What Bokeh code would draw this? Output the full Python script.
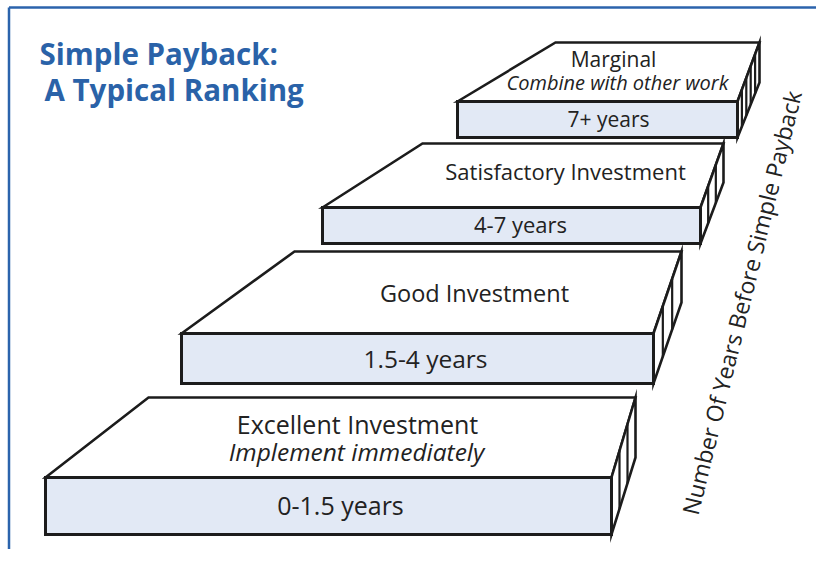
import math
from bokeh.plotting import figure
from bokeh.models import Range1d
from bokeh.core.properties import value
from bokeh.embed import file_html
from bokeh.resources import INLINE

# ---- content ----
title_lines = ["Simple Payback:", "A Typical Ranking"]
rank_labels = ["Excellent Investment", "Good Investment", "Satisfactory Investment", "Marginal"]
rank_notes = ["Implement immediately", "", "", "Combine with other work"]
year_labels = ["0-1.5 years", "1.5-4 years", "4-7 years", "7+ years"]
axis_label = "Number Of Years Before Simple Payback"

# ---- layout (pixel geometry of each slab, image coordinates) ----
# front-left, front-right, front-top, front-bottom, back-left, back-right, back-top, back-bottom
slabs = [
    (45, 611, 477, 534, 148, 635, 397, 457),
    (181, 653, 333, 383, 294, 681, 251, 302),
    (322, 700, 207, 243, 422, 723, 143, 182),
    (457, 737, 101, 137, 555, 759, 42, 82),
]
stripes = [2, 2, 2, 4]
label_pos = [(357, 423), (474, 292), (565, 170), (613, 58)]
note_pos = [(356, 451), None, None, (617, 82)]
year_pos = [(340, 504), (425, 358), (520, 223), (608, 118)]
label_size = ["25px", "23.5px", "22px", "21px"]
note_size = ["24.5px", "22px", "21px", "20px"]
year_size = ["25px", "24.5px", "22px", "21px"]

W, H = 816, 549
p = figure(width=W, height=H, x_range=Range1d(0, W), y_range=Range1d(H, 0),
           output_backend="svg", toolbar_location=None, min_border=0)
p.axis.visible = False
p.grid.visible = False
p.outline_line_color = None
p.background_fill_color = "white"
p.border_fill_color = "white"

# frame
p.line([8.5, 8.5], [H + 5, 7], line_color="#2B63AC", line_width=2.5)
p.line([8.5, W + 5], [7, 7], line_color="#2B63AC", line_width=2.5)

ink = "#1c1c1c"
lw = 2.6
for (xl, xr, yt, yb, bxl, bxr, byt, byb), ns in zip(slabs, stripes):
    # top face
    p.patch([xl, bxl, bxr, xr], [yt, byt, byt, yt], fill_color="white",
            line_color=ink, line_width=lw, line_join="miter")
    # side face
    p.patch([xr, bxr, bxr, xr], [yt, byt, byb, yb], fill_color="white",
            line_color=ink, line_width=lw, line_join="miter")
    # side stripes
    xs, ys = [], []
    for k in range(1, ns + 1):
        f = k / (ns + 1)
        x = xr + f * (bxr - xr)
        xs.append([x, x])
        ys.append([yt + f * (byt - yt), yb + f * (byb - yb)])
    p.multi_line(xs, ys, line_color=ink, line_width=lw * 0.85)
    # front face
    p.patch([xl, xr, xr, xl], [yt, yt, yb, yb], fill_color="#E2E9F5",
            line_color=ink, line_width=lw + 0.4, line_join="miter")

font = value("Open Sans")
for i in range(4):
    x, y = label_pos[i]
    p.text([x], [y], text=[rank_labels[i]], text_font=font, text_font_size=label_size[i],
           text_align="center", text_baseline="middle", text_color="#222222")
    if note_pos[i] is not None:
        x, y = note_pos[i]
        p.text([x], [y], text=[rank_notes[i]], text_font=font, text_font_size=note_size[i],
               text_font_style="italic", text_align="center", text_baseline="middle",
               text_color="#222222")
    x, y = year_pos[i]
    p.text([x], [y], text=[year_labels[i]], text_font=font, text_font_size=year_size[i],
           text_align="center", text_baseline="middle", text_color="#222222")

# title
p.text([39, 44], [53, 89], text=title_lines, text_font=font, text_font_size="29.5px",
       text_font_style="bold", text_align="left", text_baseline="middle", text_color="#2A62A8")

# rotated axis label
p.text([741], [302], text=[axis_label], text_font=font, text_font_size="23px",
       angle=math.radians(76.2), text_align="center", text_baseline="middle",
       text_color="#222222")

open("out.html", "w").write(file_html(p, INLINE))
